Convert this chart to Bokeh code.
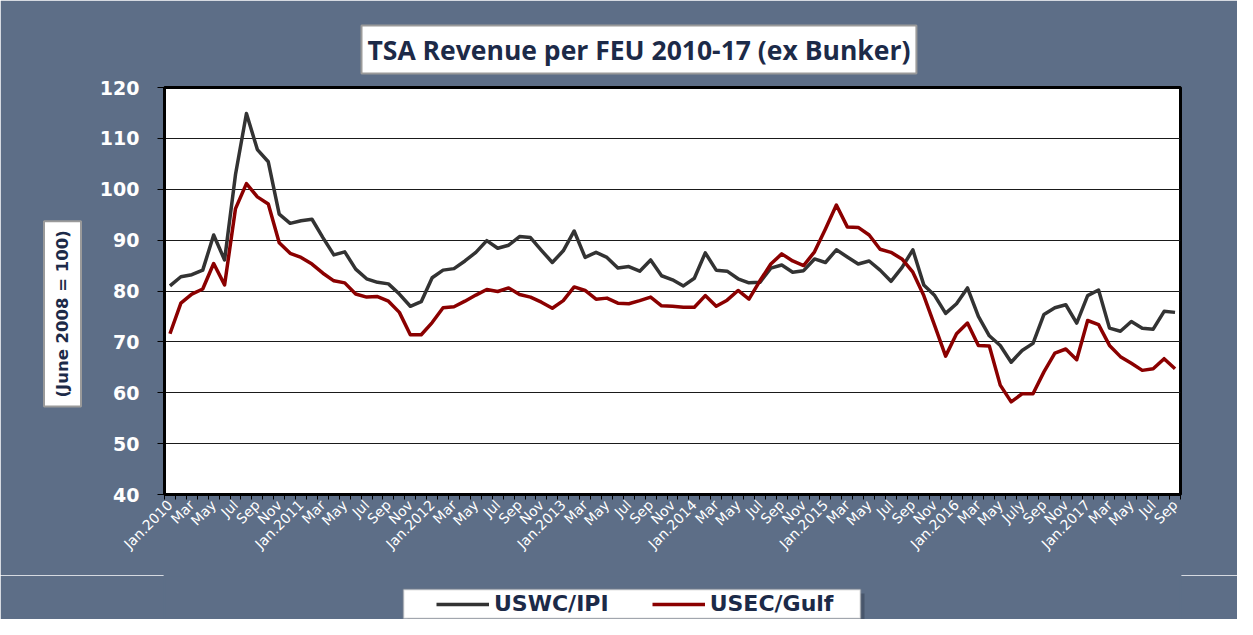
import math
from bokeh.plotting import figure
from bokeh.layouts import column
from bokeh.models import (Range1d, FixedTicker, Legend, LegendItem, Title, BoxAnnotation)
from bokeh.embed import file_html
from bokeh.resources import INLINE

# ---- data -------------------------------------------------------------
uswc = [81.0, 82.8, 83.2, 84.1, 91.0, 86.1, 102.9, 114.9, 107.8, 105.4,
        95.1, 93.3, 93.8, 94.1, 90.5, 87.1, 87.7, 84.3, 82.4, 81.7,
        81.4, 79.4, 77.0, 77.9, 82.6, 84.1, 84.4, 85.9, 87.6, 89.9,
        88.4, 89.0, 90.7, 90.5, 88.0, 85.6, 87.9, 91.8, 86.6, 87.6,
        86.6, 84.5, 84.8, 83.9, 86.1, 83.0, 82.2, 81.0, 82.5, 87.5,
        84.1, 83.9, 82.4, 81.6, 81.7, 84.5, 85.1, 83.7, 84.0, 86.3,
        85.6, 88.1, 86.7, 85.3, 85.9, 84.1, 81.9, 84.6, 88.1, 81.2,
        79.1, 75.6, 77.5, 80.6, 75.0, 71.2, 69.3, 66.0, 68.3, 69.7,
        75.4, 76.7, 77.3, 73.7, 79.1, 80.2, 72.7, 72.1, 74.0, 72.7,
        72.5, 76.0, 75.8]

usec = [71.6, 77.6, 79.4, 80.4, 85.4, 81.2, 96.2, 101.1, 98.5, 97.1,
        89.5, 87.4, 86.6, 85.3, 83.5, 82.0, 81.6, 79.4, 78.8, 78.9,
        78.0, 75.8, 71.4, 71.4, 73.8, 76.7, 76.9, 78.0, 79.2, 80.3,
        79.9, 80.6, 79.3, 78.8, 77.8, 76.6, 78.1, 80.8, 80.1, 78.4,
        78.6, 77.6, 77.5, 78.1, 78.8, 77.1, 77.0, 76.8, 76.8, 79.1,
        77.0, 78.2, 80.1, 78.4, 82.0, 85.3, 87.3, 85.9, 85.0, 87.7,
        92.2, 96.9, 92.6, 92.5, 91.0, 88.2, 87.6, 86.3, 83.7, 79.1,
        73.2, 67.2, 71.6, 73.7, 69.3, 69.2, 61.5, 58.2, 59.8, 59.8,
        64.1, 67.8, 68.6, 66.5, 74.2, 73.4, 69.3, 67.1, 65.8, 64.4,
        64.7, 66.7, 64.7]

# one tick label for every second month (Jan.2010 ... Sep 2017)
tick_labels = ["Jan.2010", "Mar", "May", "Jul", "Sep", "Nov",
               "Jan.2011", "Mar", "May", "Jul", "Sep", "Nov",
               "Jan.2012", "Mar", "May", "Jul", "Sep", "Nov",
               "Jan.2013", "Mar", "May", "Jul", "Sep", "Nov",
               "Jan.2014", "Mar", "May", "Jul", "Sep", "Nov",
               "Jan.2015", "Mar", "May", "Jul", "Sep", "Nov",
               "Jan.2016", "Mar", "May", "July", "Sep", "Nov",
               "Jan.2017", "Mar", "May", "Jul", "Sep"]
y_ticks = [40, 50, 60, 70, 80, 90, 100, 110, 120]
series_names = ["USWC/IPI", "USEC/Gulf"]
series_colors = ["#333333", "#8B0000"]

title_text = "TSA Revenue per FEU 2010-17 (ex Bunker)"
ylabel_text = "(June 2008 = 100)"

# ---- styling ----------------------------------------------------------
BG = "#5D6E87"
NAVY = "#1C2A48"
SHADOW = "#2F3A4C"
W = 1237
H_MAIN = 575
H_LEG = 44
F_LEFT, F_RIGHT, F_TOP, F_BOTTOM = 164, 1180, 87, 494   # plot-frame pixel box

months = list(range(len(uswc)))

p = figure(width=W, height=H_MAIN, output_backend="svg", toolbar_location=None,
           x_range=Range1d(-0.5, len(uswc) - 0.5), y_range=Range1d(40, 120),
           min_border_left=F_LEFT, min_border_right=W - F_RIGHT, min_border_top=F_TOP,
           min_border_bottom=H_MAIN - F_BOTTOM)
p.border_fill_color = BG
p.background_fill_color = "white"
p.outline_line_color = "black"
p.outline_line_width = 3

# title box
p.title.text = title_text
p.title.align = "left"
p.title.offset = 197
p.title.standoff = 26
p.title.vertical_align = "middle"
p.title.text_font = "Open Sans"
p.title.text_font_style = "bold"
p.title.text_font_size = "26.5px"
p.title.text_color = NAVY
p.title.background_fill_color = "white"
p.title.border_line_color = "#9a9a9a"
p.title.border_line_width = 2
p.title.padding = 6

# y label box (left side)
ytitle = Title(text=ylabel_text, align="left", offset=88, standoff=29,
               vertical_align="middle",
               text_font="DejaVu Sans", text_font_style="bold", text_font_size="16.5px",
               text_color=NAVY, background_fill_color="white",
               border_line_color="#9a9a9a", border_line_width=2, padding=9)
p.add_layout(ytitle, "left")

# x axis
label_pos = list(range(0, len(uswc), 2))
xt = FixedTicker(ticks=label_pos, minor_ticks=[i - 0.5 for i in range(len(uswc) + 1)])
p.xaxis.ticker = xt
p.xaxis.major_label_overrides = {pos: lab for pos, lab in zip(label_pos, tick_labels)}
p.xaxis.major_label_orientation = math.pi / 4
p.xaxis.major_tick_out = 0
p.xaxis.major_tick_in = 0
p.xaxis.minor_tick_out = 5
p.xaxis.minor_tick_in = 0
p.xaxis.minor_tick_line_color = "black"
p.xaxis.axis_line_color = "black"
p.xaxis.axis_line_width = 3
p.xaxis.major_label_text_color = "white"
p.xaxis.major_label_text_font = "DejaVu Sans"
p.xaxis.major_label_text_font_size = "14px"
p.xaxis.major_label_standoff = 3

# y axis
p.yaxis.ticker = FixedTicker(ticks=y_ticks)
p.yaxis.major_tick_out = 7
p.yaxis.major_tick_in = 0
p.yaxis.minor_tick_line_color = None
p.yaxis.major_tick_line_color = "black"
p.yaxis.axis_line_color = "black"
p.yaxis.axis_line_width = 3
p.yaxis.major_label_text_color = "white"
p.yaxis.major_label_text_font = "DejaVu Sans"
p.yaxis.major_label_text_font_style = "bold"
p.yaxis.major_label_text_font_size = "19px"
p.yaxis.major_label_standoff = 18

p.xgrid.grid_line_color = None
p.ygrid.grid_line_color = "#1a1a1a"
p.ygrid.grid_line_width = 1
p.ygrid.ticker = FixedTicker(ticks=y_ticks)

r1 = p.line(months, uswc, line_color=series_colors[0], line_width=3.5, line_join="round")
r2 = p.line(months, usec, line_color=series_colors[1], line_width=3.5, line_join="round")

# ---- legend strip (second figure; ranges in page pixels) ---------------
pl = figure(width=W, height=H_LEG, output_backend="svg", toolbar_location=None,
            x_range=Range1d(F_LEFT, F_RIGHT), y_range=Range1d(0, H_LEG),
            x_axis_location=None, y_axis_location=None,
            min_border_left=F_LEFT, min_border_right=W - F_RIGHT,
            min_border_top=0, min_border_bottom=0)
pl.background_fill_color = BG
pl.border_fill_color = BG
pl.outline_line_color = BG
pl.outline_line_width = 2
pl.grid.visible = False

pl.add_layout(BoxAnnotation(left=407, right=864, bottom=-3, top=26,
                            fill_color=SHADOW, fill_alpha=0.45, line_color=None))
pl.add_layout(BoxAnnotation(left=403, right=860, bottom=1, top=30,
                            fill_color="white", fill_alpha=1.0,
                            line_color="#9a9a9a", line_width=2))

# legend swatches (series lie outside this strip's pixel ranges, so only the
# legend glyphs show)
g1 = pl.line(months, uswc, line_color=series_colors[0], line_width=3.5)
g2 = pl.line(months, usec, line_color=series_colors[1], line_width=3.5)

legend = Legend(items=[LegendItem(label=series_names[0], renderers=[g1]),
                       LegendItem(label=series_names[1], renderers=[g2])],
                orientation="horizontal", location=(436 - F_LEFT, 3),
                padding=0, margin=0, spacing=43, glyph_width=53, glyph_height=20,
                label_standoff=5, label_height=20,
                label_text_font="DejaVu Sans", label_text_font_style="bold",
                label_text_font_size="22px", label_text_color=NAVY,
                background_fill_alpha=0, border_line_alpha=0)
pl.add_layout(legend, "center")

layout = column(p, pl, spacing=0)
open("out.html", "w").write(file_html(layout, INLINE))
